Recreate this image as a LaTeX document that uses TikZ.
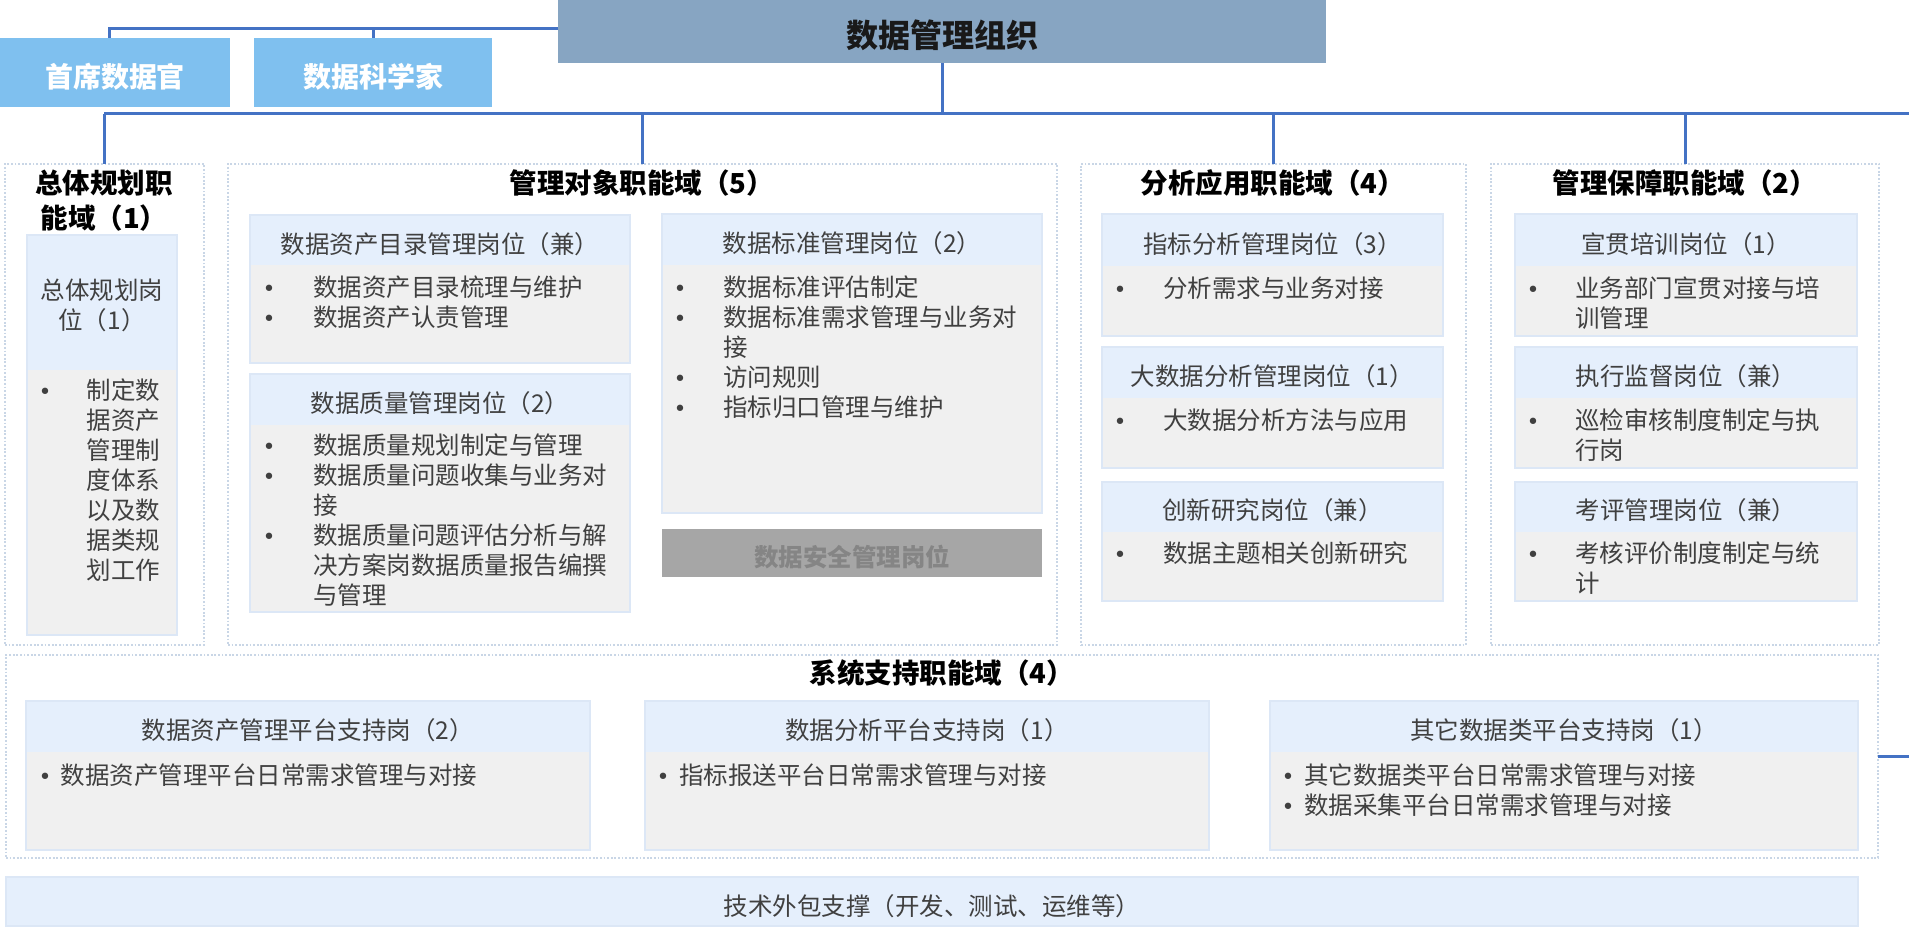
\documentclass[tikz,border=0pt]{standalone}
\usepackage{fontspec}
\setmainfont{Noto Sans CJK SC}
\newfontfamily\bulfont{DejaVu Sans}
\usetikzlibrary{fit}
\definecolor{topfill}{HTML}{87A5C2}
\definecolor{sidefill}{HTML}{7FC0EF}
\definecolor{linkblue}{HTML}{4472C4}
\definecolor{domline}{HTML}{C9D6E6}
\definecolor{headfill}{HTML}{E5EFFC}
\definecolor{bodyfill}{HTML}{F0F0F0}
\definecolor{postline}{HTML}{DCE7F6}
\definecolor{txtgray}{HTML}{404040}
\definecolor{secfill}{HTML}{A6A6A6}
\definecolor{sectxt}{HTML}{858585}
\newcommand\mybul{\makebox[0pt]{\bulfont\fontsize{22}{22}\selectfont •}}
\tikzset{
  rbox/.style={inner sep=0pt, outer sep=0pt},
  dombox/.style={rbox, draw=domline, line width=1.5pt, dash pattern=on 1.8pt off 1.8pt},
  headbox/.style={rbox, fill=headfill},
  headtxt/.style={inner sep=0pt, text=txtgray, font=\fontsize{24.5}{30}\selectfont, align=center},
  bodybox/.style={rbox, fill=bodyfill},
  frameline/.style={draw=postline, line width=1.5pt},
  listtxt/.style={anchor=north west, inner sep=0pt, outer sep=0pt, text=txtgray, font=\fontsize{24.5}{30}\selectfont},
  listtxtb/.style={listtxt, font=\fontsize{24.5}{29}\selectfont},
  domtitle/.style={font=\bfseries\fontsize{27.5}{35}\selectfont, text=black, align=center, inner sep=0pt},
  sidetxt/.style={inner sep=0pt, font=\bfseries\fontsize{28}{32}\selectfont, text=white},
  link/.style={draw=linkblue, line width=3pt},
}
\begin{document}
\begin{tikzpicture}[x=1pt, y=-1pt]
\useasboundingbox[fill=white] (0,0) rectangle (1909,928);

% ---- top organisation ----
\node[rbox, fill=topfill, fit={(558,0) (1326,63)}] (org) {};
\node[inner sep=0pt, font=\bfseries\fontsize{32}{36}\selectfont, text=black!90] (orgtxt) at (942,35) {数据管理组织};
\node[rbox, fill=sidefill, fit={(0,38) (230,107)}] (cdo) {};
\node[sidetxt] (cdot) at ([yshift=-4pt]cdo.center) {首席数据官};
\node[rbox, fill=sidefill, fit={(254,38) (492,107)}] (sci) {};
\node[sidetxt] (scit) at ([yshift=-4pt]sci.center) {数据科学家};
\coordinate (tl) at (109,29);
\draw[link] (org.west |- tl) -- (tl) -- (cdo.north -| tl);
\draw[link] (sci.north) -- (sci.north |- tl);

% ---- domains ----
\node[dombox, fit={(5,164) (204,645)}] (d1) {};
\node[dombox, fit={(228,164) (1057,645)}] (d2) {};
\node[dombox, fit={(1081,164) (1466,645)}] (d3) {};
\node[dombox, fit={(1491,164) (1879,645)}] (d4) {};
\node[dombox, fit={(6,655) (1878,858)}] (d5) {};

\node[domtitle] (t1) at (104,201) {总体规划职\\能域（1）};
\node[domtitle] (t2) at (642,183) {管理对象职能域（5）};
\node[domtitle] (t3) at (1273,183) {分析应用职能域（4）};
\node[domtitle] (t4) at (1685,183) {管理保障职能域（2）};
\node[domtitle] (t5) at (942,673) {系统支持职能域（4）};

% ---- connectors ----
\coordinate (hub) at (942,114);
\coordinate (hubL) at (104,114);
\coordinate (hubR) at (1909,114);
\draw[link] (org.south) -- (hub);
\draw[link] (hubL) -- (hubR);
\draw[link] (d1.north) -- (d1.north |- hub);
\draw[link] (d2.north) -- (d2.north |- hub);
\draw[link] (d3.north) -- (d3.north |- hub);
\draw[link] (d4.north) -- (d4.north |- hub);
\coordinate (sideR) at (1909,756);
\draw[link] (sideR) -- (d5.east |- sideR);

% ---- 总体规划岗位 ----
\node[bodybox, fit={(27,235) (177,635)}] (p1b) {};
\node[headbox, fit={(27,235) (177,370)}] (p1) {};
\node[headtxt] (p1t) at ([yshift=-3pt]p1.center) {总体规划岗\\位（1）};
\draw[frameline] (p1b.north west) rectangle (p1b.south east);
\node[listtxt] (l1) at (45,378.3) {\begin{tabular}{@{}p{42pt}@{}l@{}}\mybul & 制定数\\ & 据资产\\ & 管理制\\ & 度体系\\ & 以及数\\ & 据类规\\ & 划工作\end{tabular}};

% ---- 数据资产目录管理岗位 ----
\node[bodybox, fit={(250,215) (630,363)}] (p2b) {};
\node[headbox, fit={(250,215) (630,265)}] (p2) {};
\node[headtxt] (p2t) at ([yshift=-4pt]p2.center) {数据资产目录管理岗位（兼）};
\draw[frameline] (p2b.north west) rectangle (p2b.south east);
\node[listtxt] (l2) at (269,275.3) {\begin{tabular}{@{}p{44pt}@{}l@{}}\mybul & 数据资产目录梳理与维护\\ \mybul & 数据资产认责管理\end{tabular}};

% ---- 数据质量管理岗位 ----
\node[bodybox, fit={(250,374) (630,612)}] (p3b) {};
\node[headbox, fit={(250,374) (630,425)}] (p3) {};
\node[headtxt] (p3t) at ([yshift=-4pt]p3.center) {数据质量管理岗位（2）};
\draw[frameline] (p3b.north west) rectangle (p3b.south east);
\node[listtxt] (l3) at (269,433.3) {\begin{tabular}{@{}p{44pt}@{}l@{}}\mybul & 数据质量规划制定与管理\\ \mybul & 数据质量问题收集与业务对\\ & 接\\ \mybul & 数据质量问题评估分析与解\\ & 决方案岗数据质量报告编撰\\ & 与管理\end{tabular}};

% ---- 数据标准管理岗位 ----
\node[bodybox, fit={(662,214) (1042,513)}] (p4b) {};
\node[headbox, fit={(662,214) (1042,265)}] (p4) {};
\node[headtxt] (p4t) at ([yshift=-4pt]p4.center) {数据标准管理岗位（2）};
\draw[frameline] (p4b.north west) rectangle (p4b.south east);
\node[listtxt] (l4) at (680,275.3) {\begin{tabular}{@{}p{43pt}@{}l@{}}\mybul & 数据标准评估制定\\ \mybul & 数据标准需求管理与业务对\\ & 接\\ \mybul & 访问规则\\ \mybul & 指标归口管理与维护\end{tabular}};

% ---- 数据安全管理岗位 ----
\node[rbox, fill=secfill, fit={(662,529) (1042,577)}] (p5) {};
\node[inner sep=0pt, font=\bfseries\fontsize{24.5}{30}\selectfont, text=sectxt] (p5t) at ([yshift=-4pt]p5.center) {数据安全管理岗位};

% ---- 分析应用 posts ----
\node[bodybox, fit={(1102,214) (1443,336)}] (p6b) {};
\node[headbox, fit={(1102,214) (1443,266)}] (p6) {};
\node[headtxt] (p6t) at ([yshift=-4pt]p6.center) {指标分析管理岗位（3）};
\draw[frameline] (p6b.north west) rectangle (p6b.south east);
\node[listtxt] (l6) at (1120,276.3) {\begin{tabular}{@{}p{43pt}@{}l@{}}\mybul & 分析需求与业务对接\end{tabular}};

\node[bodybox, fit={(1102,347) (1443,468)}] (p7b) {};
\node[headbox, fit={(1102,347) (1443,398)}] (p7) {};
\node[headtxt] (p7t) at ([yshift=-4pt]p7.center) {大数据分析管理岗位（1）};
\draw[frameline] (p7b.north west) rectangle (p7b.south east);
\node[listtxt] (l7) at (1120,408.3) {\begin{tabular}{@{}p{43pt}@{}l@{}}\mybul & 大数据分析方法与应用\end{tabular}};

\node[bodybox, fit={(1102,482) (1443,601)}] (p8b) {};
\node[headbox, fit={(1102,482) (1443,532)}] (p8) {};
\node[headtxt] (p8t) at ([yshift=-3pt]p8.center) {创新研究岗位（兼）};
\draw[frameline] (p8b.north west) rectangle (p8b.south east);
\node[listtxt] (l8) at (1120,541.3) {\begin{tabular}{@{}p{43pt}@{}l@{}}\mybul & 数据主题相关创新研究\end{tabular}};

% ---- 管理保障 posts ----
\node[bodybox, fit={(1515,214) (1857,336)}] (p9b) {};
\node[headbox, fit={(1515,214) (1857,266)}] (p9) {};
\node[headtxt] (p9t) at ([yshift=-4pt]p9.center) {宣贯培训岗位（1）};
\draw[frameline] (p9b.north west) rectangle (p9b.south east);
\node[listtxt] (l9) at (1533,276.3) {\begin{tabular}{@{}p{42pt}@{}l@{}}\mybul & 业务部门宣贯对接与培\\ & 训管理\end{tabular}};

\node[bodybox, fit={(1515,347) (1857,468)}] (p10b) {};
\node[headbox, fit={(1515,347) (1857,398)}] (p10) {};
\node[headtxt] (p10t) at ([yshift=-4pt]p10.center) {执行监督岗位（兼）};
\draw[frameline] (p10b.north west) rectangle (p10b.south east);
\node[listtxt] (l10) at (1533,408.3) {\begin{tabular}{@{}p{42pt}@{}l@{}}\mybul & 巡检审核制度制定与执\\ & 行岗\end{tabular}};

\node[bodybox, fit={(1515,482) (1857,601)}] (p11b) {};
\node[headbox, fit={(1515,482) (1857,532)}] (p11) {};
\node[headtxt] (p11t) at ([yshift=-3pt]p11.center) {考评管理岗位（兼）};
\draw[frameline] (p11b.north west) rectangle (p11b.south east);
\node[listtxt] (l11) at (1533,541.3) {\begin{tabular}{@{}p{42pt}@{}l@{}}\mybul & 考核评价制度制定与统\\ & 计\end{tabular}};

% ---- 系统支持 posts ----
\node[bodybox, fit={(26,701) (590,850)}] (p12b) {};
\node[headbox, fit={(26,701) (590,752)}] (p12) {};
\node[headtxt] (p12t) at ([yshift=-4pt]p12.center) {数据资产管理平台支持岗（2）};
\draw[frameline] (p12b.north west) rectangle (p12b.south east);
\node[listtxtb] (l12) at (45,764) {\begin{tabular}{@{}p{16pt}@{}l@{}}\mybul & 数据资产管理平台日常需求管理与对接\end{tabular}};

\node[bodybox, fit={(645,701) (1209,850)}] (p13b) {};
\node[headbox, fit={(645,701) (1209,752)}] (p13) {};
\node[headtxt] (p13t) at ([yshift=-4pt]p13.center) {数据分析平台支持岗（1）};
\draw[frameline] (p13b.north west) rectangle (p13b.south east);
\node[listtxtb] (l13) at (663,764) {\begin{tabular}{@{}p{16pt}@{}l@{}}\mybul & 指标报送平台日常需求管理与对接\end{tabular}};

\node[bodybox, fit={(1270,701) (1858,850)}] (p14b) {};
\node[headbox, fit={(1270,701) (1858,752)}] (p14) {};
\node[headtxt] (p14t) at ([yshift=-4pt]p14.center) {其它数据类平台支持岗（1）};
\draw[frameline] (p14b.north west) rectangle (p14b.south east);
\node[listtxtb] (l14) at (1288,764) {\begin{tabular}{@{}p{16pt}@{}l@{}}\mybul & 其它数据类平台日常需求管理与对接\\ \mybul & 数据采集平台日常需求管理与对接\end{tabular}};

% ---- 技术外包 ----
\node[headbox, draw=postline, line width=1.5pt, fit={(6,877) (1858,926)}] (outs) {};
\node[headtxt] (outst) at ([yshift=-5pt]outs.center) {技术外包支撑（开发、测试、运维等）};
\end{tikzpicture}
\end{document}
